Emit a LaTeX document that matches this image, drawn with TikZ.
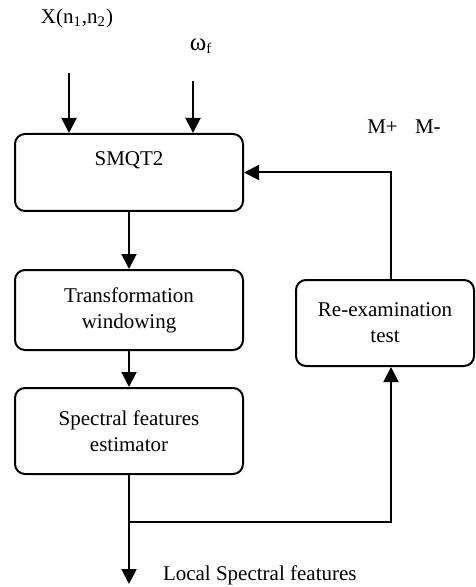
\documentclass[tikz,border=0pt]{standalone}
\usepackage{fontspec}
\setmainfont{Liberation Serif}
\usetikzlibrary{arrows.meta}

\begin{document}
\begin{tikzpicture}[
  x=0.5pt, y=-0.5pt, line width=1pt,
  >={Triangle[length=7.5pt,width=7.5pt]},
  every node/.style={font=\fontsize{10.5}{13}\selectfont, align=center},
  blk/.style={draw, rounded corners=5pt, inner sep=0pt, minimum width=114pt},
]
\useasboundingbox (0,0) rectangle (475,587);

% main chain
\node (smqt)  [blk, minimum height=38.5pt] at (129,172.5) {};
\node (smqtlbl) at (129,160) {SMQT2};
\node (trans) [blk, minimum height=40pt] at (129,310) {Transformation\\windowing};
\node (spec)  [blk, minimum height=43pt] at (129,431) {Spectral features\\estimator};
\node (rex)   [blk, minimum width=89pt, minimum height=43pt] at (385,323) {Re-examination\\test};

% inputs and outputs
\node (xin) at (77,18) {X(n\textsubscript{1},n\textsubscript{2})};
\node (wf)  at (201,46) {{\fontsize{12.5}{13}\selectfont ω}\textsubscript{f}};
\node (mpm) at (404,127) {M+\hspace{6pt} M-};
\node (out) [anchor=west, inner sep=0pt] at (162,575) {Local Spectral features};

\coordinate (xsrc) at (69,73);
\coordinate (wsrc) at (193,81);
\coordinate (tap)  at (129,522);
\coordinate (sink) at (129,584);

\draw[->] (xsrc) -- (xsrc |- smqt.north);
\draw[->] (wsrc) -- (wsrc |- smqt.north);
\draw[->] (smqt) -- (trans);
\draw[->] (trans) -- (spec);
\draw[->] (spec) -- (sink);
% feedback loop
\draw[->] (tap) -| ([xshift=3pt]rex.south);
\draw[->] ([xshift=3pt]rex.north) |- (smqt.east);
\end{tikzpicture}
\end{document}
